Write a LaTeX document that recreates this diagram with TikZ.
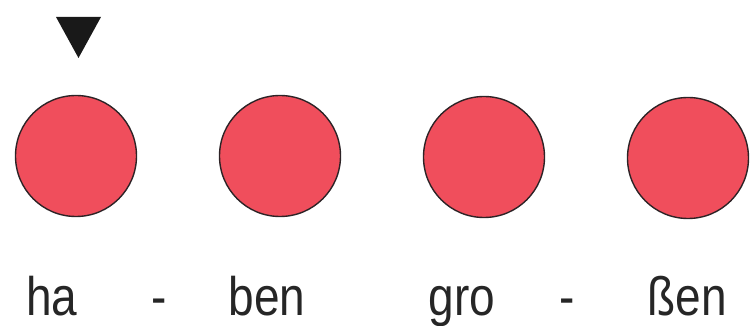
\documentclass[tikz,border=0pt]{standalone}
\usepackage{fontspec}
\setmainfont{Liberation Sans}
\definecolor{dotred}{RGB}{240,78,92}
\definecolor{inkdark}{RGB}{45,35,38}
\begin{document}
\begin{tikzpicture}[x=1pt,y=-1pt,
  dot/.style={circle,draw=inkdark,line width=1.4pt,fill=dotred,minimum width=121pt,inner sep=0pt},
  syl/.style={anchor=base,inner sep=0pt,text=black!85,font=\fontsize{46}{50}\selectfont}]
\useasboundingbox (0,0) rectangle (753,326);
\node[dot] (c1) at (76,156) {};
\node[dot] (c2) at (280,156) {};
\node[dot] (c3) at (484,157) {};
\node[dot] (c4) at (688,158) {};
\fill[black!90] (56,17) -- (101,17) -- (78.5,58) -- cycle;
\node[syl] (t1) at (52,315) {\scalebox{1}[1.18]{ha}};
\node[syl] (t2) at (159,315) {\scalebox{1}[1.18]{-}};
\node[syl] (t3) at (267,315) {\scalebox{1}[1.18]{ben}};
\node[syl] (t4) at (462,315) {\scalebox{1}[1.18]{gro}};
\node[syl] (t5) at (567,315) {\scalebox{1}[1.18]{-}};
\node[syl] (t6) at (687,315) {\scalebox{1}[1.18]{ßen}};
\end{tikzpicture}
\end{document}
